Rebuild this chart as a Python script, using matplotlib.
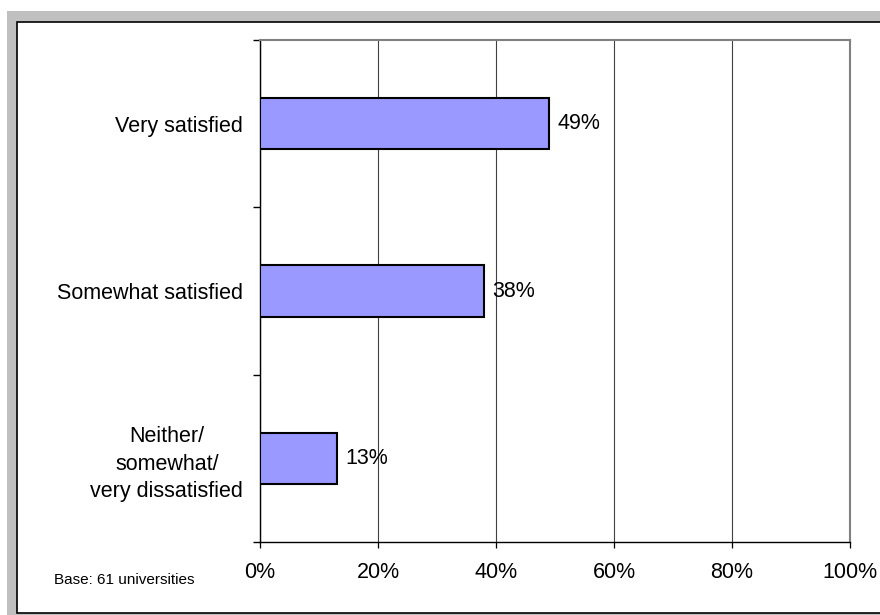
import matplotlib
matplotlib.use("Agg")
import matplotlib.pyplot as plt
from matplotlib.patches import Rectangle
from matplotlib.ticker import FuncFormatter

plt.rcParams['font.family'] = ['Liberation Sans', 'DejaVu Sans']

categories = ["Very satisfied", "Somewhat satisfied", "Neither/\nsomewhat/\nvery dissatisfied"]
values = [49, 38, 13]
value_labels = ["49%", "38%", "13%"]
x_ticks = [0, 20, 40, 60, 80, 100]
base_note = "Base: 61 universities"

W, H = 880, 615
fig = plt.figure(figsize=(W / 100, H / 100), dpi=100)
fig.patch.set_facecolor('white')

# outer gray frame and inner white panel with black border
fig.patches.append(Rectangle((7 / W, -0.1), 1.2, (1 - 11 / H) + 0.1, transform=fig.transFigure,
                             facecolor='#C0C0C0', edgecolor='none', zorder=0))
fig.patches.append(Rectangle((17 / W, 2 / H), 1.2, (1 - 22 / H) - 2 / H, transform=fig.transFigure,
                             facecolor='white', edgecolor='black', linewidth=1.2, zorder=1))

ax = fig.add_axes([260 / W, 1 - 542 / H, 590 / W, (542 - 40) / H])
ax.set_zorder(2)
ax.set_facecolor('white')

ypos = list(range(len(categories)))
bars = ax.barh(ypos, values, height=0.305, color='#9999FF', edgecolor='black', linewidth=1.5, zorder=3)
for y, v, lab in zip(ypos, values, value_labels):
    ax.annotate(lab, xy=(v, y), xytext=(6, 0), textcoords='offset points',
                ha='left', va='center', fontsize=15.5, color='black', zorder=4)

ax.set_xlim(0, 100)
ax.set_ylim(len(categories) - 0.5, -0.5)

ax.set_xticks(x_ticks)
ax.xaxis.set_major_formatter(FuncFormatter(lambda v, p: f"{int(v)}%"))
ax.tick_params(axis='x', direction='out', length=4.5, width=0.9, color='black',
               labelsize=15.5, pad=10)

ax.set_yticks(ypos)
ax.set_yticklabels(categories, multialignment='center', linespacing=1.42)
ax.set_yticks([i - 0.5 for i in range(len(categories) + 1)], minor=True)
ax.tick_params(axis='y', which='major', length=0, labelsize=15.5, pad=12)
ax.tick_params(axis='y', which='minor', direction='out', length=5, width=1.0, color='black')

ax.set_axisbelow(True)
ax.xaxis.grid(True, color='#404040', linewidth=0.8)
ax.yaxis.grid(False)

ax.spines['left'].set_color('black')
ax.spines['left'].set_linewidth(1.0)
ax.spines['bottom'].set_color('black')
ax.spines['bottom'].set_linewidth(1.0)
ax.spines['top'].set_color('#808080')
ax.spines['top'].set_linewidth(1.5)
ax.spines['right'].set_color('#808080')
ax.spines['right'].set_linewidth(1.5)

fig.text(54 / W, 1 - 584 / H, base_note, fontsize=11, ha='left', va='baseline', color='black', zorder=5)

fig.savefig("out.png", dpi=100)
